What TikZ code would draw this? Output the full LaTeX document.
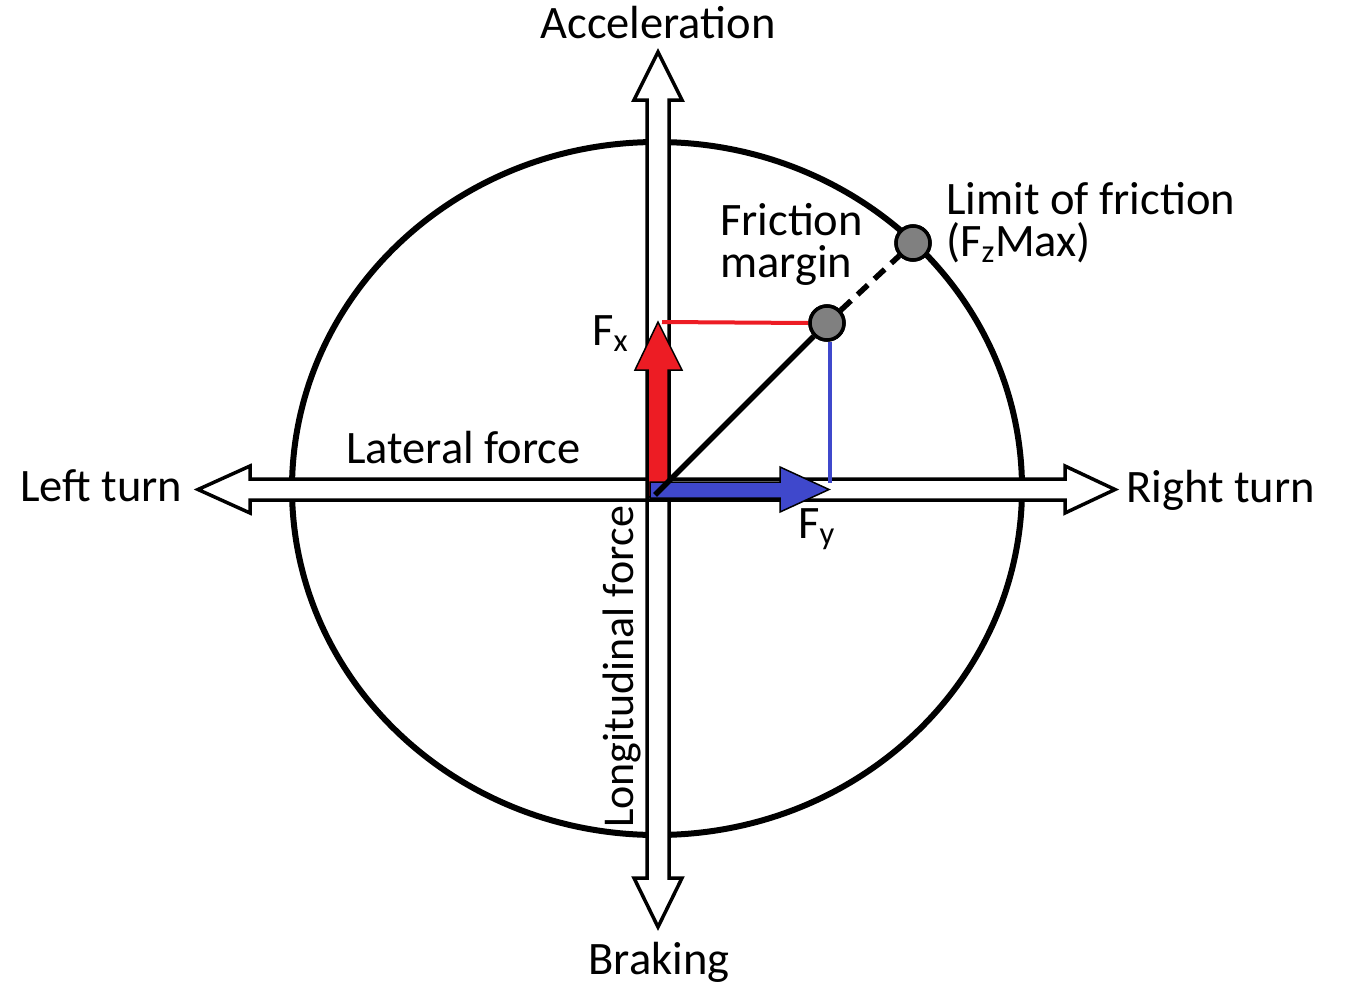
\documentclass[tikz,border=0pt]{standalone}
\usepackage{fontspec}
\setmainfont{Carlito}
\definecolor{fred}{RGB}{237,28,36}
\definecolor{fblue}{RGB}{63,72,204}
\definecolor{dotgray}{RGB}{128,128,128}
\begin{document}
\begin{tikzpicture}[x=1pt,y=-1pt,
  lbl/.style={inner sep=0pt,font=\fontsize{46.5}{42}\selectfont},
  outline/.style={draw=black,line width=3.5pt,line join=miter},
  gdot/.style={circle,draw=black,line width=3.5pt,fill=dotgray,minimum size=34pt,inner sep=0pt}]
\useasboundingbox (0,0) rectangle (1347,985);
% friction circle
\draw[line width=6pt] (657,488.5) ellipse [x radius=365, y radius=346.5];
% white double arrows
\fill[white] (647,100) -- (634,100) -- (658,52) -- (682,100) -- (669,100) -- (669,878) -- (682,878) -- (658,927) -- (634,878) -- (647,878) -- cycle;
\fill[white] (250,479) -- (250,466) -- (198,489.5) -- (250,513) -- (250,500) -- (1065,500) -- (1065,513) -- (1115,489.5) -- (1065,466) -- (1065,479) -- cycle;
\draw[outline] (647,100) -- (634,100) -- (658,52) -- (682,100) -- (669,100) -- (669,878) -- (682,878) -- (658,927) -- (634,878) -- (647,878) -- cycle;
\draw[outline] (250,479) -- (250,466) -- (198,489.5) -- (250,513) -- (250,500) -- (1065,500) -- (1065,513) -- (1115,489.5) -- (1065,466) -- (1065,479) -- cycle;
% named points
\coordinate (o) at (655,495);
\node[gdot] (m) at (827,323) {};
\node[gdot] (lim) at (913,243) {};
\coordinate (fxtip) at (662,322);
\coordinate (fytip) at (830,483);
% red Fx arrow
\filldraw[fill=fred,draw=black,line width=1.5pt,line join=miter] (648,498) -- (648,370) -- (635,370) -- (658,322) -- (682,370) -- (668,370) -- (668,484) -- cycle;
% blue Fy arrow
\filldraw[fill=fblue,draw=black,line width=1.5pt,line join=miter] (650,482) -- (780,482) -- (780,467) -- (829,489.5) -- (780,512) -- (780,498) -- (650,498) -- cycle;
% construction lines
\draw[fred,line width=4pt] (fxtip) -- (m.west);
\draw[fblue,line width=3.5pt] (m.south -| fytip) -- (fytip);
\draw[line width=5.5pt] (o) -- (m);
\draw[line width=5.5pt,dash pattern=on 14pt off 9pt] (m) -- (lim);
% redraw dots on top
\node[gdot] at (m) {};
\node[gdot] at (lim) {};
% labels
\node[lbl,anchor=base] (acc) at (658,38) {Acceleration};
\node[lbl,anchor=base] (brk) at (659,974) {Braking};
\node[lbl,anchor=base west] (lt) at (20,501) {Left turn};
\node[lbl,anchor=base west] (rt) at (1126,502) {Right turn};
\node[lbl,anchor=base west] (lat) at (346,463) {Lateral force};
\node[lbl,anchor=base west,rotate=90,font=\fontsize{44}{42}\selectfont] (lon) at (633,828) {Longitudinal force};
\node[lbl,anchor=base west,align=left] (fm) at (720,277) {Friction\\margin};
\node[lbl,anchor=base west,align=left] (lf) at (946,256) {Limit of friction\\(F\textsubscript{z}Max)};
\node[lbl,anchor=base west] (fx) at (592,345) {F\textsubscript{x}};
\node[lbl,anchor=base west] (fy) at (798,538) {F\textsubscript{y}};
\end{tikzpicture}
\end{document}
